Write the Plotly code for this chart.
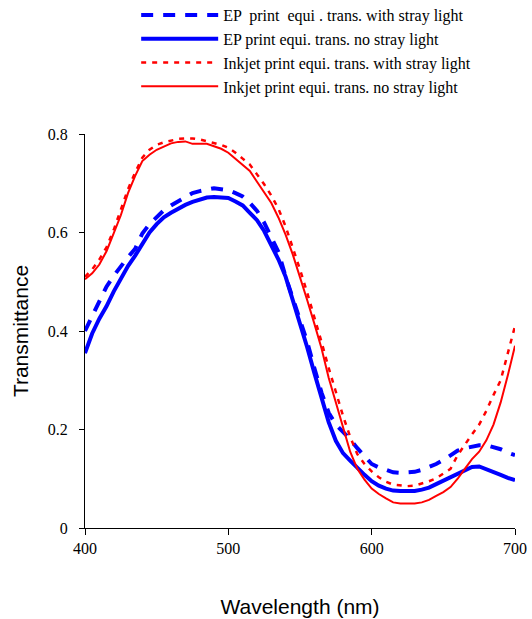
import plotly.graph_objects as go

wavelength = list(range(400, 701, 5))

ep_with_stray = [0.400, 0.430, 0.460, 0.490, 0.512, 0.532, 0.550, 0.567, 0.598, 0.617,
                 0.632, 0.645, 0.655, 0.663, 0.672, 0.680, 0.684, 0.688, 0.690, 0.688,
                 0.686, 0.680, 0.673, 0.660, 0.644, 0.620, 0.588, 0.560, 0.510, 0.468,
                 0.424, 0.378, 0.325, 0.275, 0.234, 0.210, 0.195, 0.180, 0.162, 0.145,
                 0.130, 0.123, 0.118, 0.113, 0.112, 0.112, 0.114, 0.118, 0.123, 0.130,
                 0.138, 0.148, 0.157, 0.162, 0.165, 0.168, 0.168, 0.165, 0.160, 0.153,
                 0.148]

ep_no_stray = [0.355, 0.395, 0.425, 0.450, 0.480, 0.507, 0.532, 0.553, 0.578, 0.600,
               0.617, 0.631, 0.640, 0.649, 0.656, 0.662, 0.667, 0.671, 0.672, 0.672,
               0.670, 0.663, 0.655, 0.640, 0.625, 0.603, 0.575, 0.545, 0.510, 0.463,
               0.420, 0.367, 0.315, 0.265, 0.215, 0.177, 0.152, 0.137, 0.122, 0.108,
               0.095, 0.086, 0.080, 0.076, 0.075, 0.075, 0.075, 0.078, 0.082, 0.089,
               0.096, 0.104, 0.112, 0.119, 0.124, 0.125, 0.120, 0.114, 0.108, 0.102,
               0.097]

inkjet_with_stray = [0.510, 0.525, 0.545, 0.570, 0.605, 0.645, 0.688, 0.722, 0.752, 0.768,
                     0.778, 0.783, 0.787, 0.790, 0.791, 0.791, 0.789, 0.785, 0.782, 0.778,
                     0.772, 0.762, 0.750, 0.738, 0.718, 0.698, 0.675, 0.648, 0.612, 0.570,
                     0.525, 0.478, 0.430, 0.378, 0.325, 0.275, 0.228, 0.185, 0.150, 0.130,
                     0.115, 0.103, 0.094, 0.088, 0.087, 0.085, 0.086, 0.090, 0.095, 0.101,
                     0.110, 0.120, 0.148, 0.170, 0.190, 0.210, 0.238, 0.270, 0.300, 0.355,
                     0.410]

inkjet_no_stray = [0.505, 0.517, 0.535, 0.562, 0.598, 0.635, 0.680, 0.715, 0.745, 0.758,
                   0.768, 0.775, 0.781, 0.784, 0.785, 0.780, 0.780, 0.780, 0.775, 0.770,
                   0.762, 0.750, 0.737, 0.725, 0.703, 0.682, 0.660, 0.630, 0.595, 0.555,
                   0.510, 0.463, 0.415, 0.365, 0.305, 0.255, 0.205, 0.155, 0.120, 0.098,
                   0.080, 0.069, 0.060, 0.052, 0.050, 0.050, 0.050, 0.052, 0.057, 0.065,
                   0.073, 0.083, 0.100, 0.120, 0.140, 0.155, 0.178, 0.210, 0.255, 0.310,
                   0.370]

series_names = ["EP  print  equi . trans. with stray light",
                "EP print equi. trans. no stray light",
                "Inkjet print equi. trans. with stray light",
                "Inkjet print equi. trans. no stray light"]

x_ticks = [400, 500, 600, 700]
y_ticks = [0, 0.2, 0.4, 0.6, 0.8]

fig = go.Figure()
fig.add_trace(go.Scatter(x=wavelength, y=ep_with_stray, mode="lines", name=series_names[0],
                         line=dict(color="#0000FF", width=4, dash="12px,10px")))
fig.add_trace(go.Scatter(x=wavelength, y=ep_no_stray, mode="lines", name=series_names[1],
                         line=dict(color="#0000FF", width=4)))
fig.add_trace(go.Scatter(x=wavelength, y=inkjet_with_stray, mode="lines", name=series_names[2],
                         line=dict(color="#FF0000", width=2.5, dash="5px,6px")))
fig.add_trace(go.Scatter(x=wavelength, y=inkjet_no_stray, mode="lines", name=series_names[3],
                         line=dict(color="#FF0000", width=2)))

fig.update_layout(
    width=532, height=619,
    margin=dict(l=85, r=17, t=134, b=91, autoexpand=False),
    paper_bgcolor="white", plot_bgcolor="white",
    font=dict(family="Liberation Serif", size=16, color="black"),
    showlegend=True,
    legend=dict(x=0.119, y=1.345, xanchor="left", yanchor="top",
                bgcolor="rgba(0,0,0,0)", itemwidth=77, tracegroupgap=0,
                font=dict(family="Liberation Serif", size=16, color="black")),
    xaxis=dict(range=[400, 700], tickvals=x_ticks, ticks="outside", ticklen=6,
               tickcolor="black", showline=True, linecolor="black", linewidth=1,
               showgrid=False, zeroline=False, mirror=False, ticklabelstandoff=0,
               tickfont=dict(family="Liberation Serif", size=16),
               title=dict(text="Wavelength (nm)", standoff=43,
                          font=dict(family="Liberation Sans", size=21))),
    yaxis=dict(range=[0, 0.8], tickvals=y_ticks, ticktext=["0", "0.2", "0.4", "0.6", "0.8"],
               ticks="outside", ticklen=5, tickcolor="black", showline=True,
               linecolor="black", linewidth=1, showgrid=False, zeroline=False,
               ticklabelstandoff=8,
               tickfont=dict(family="Liberation Serif", size=16),
               title=dict(text="Transmittance", standoff=13,
                          font=dict(family="Liberation Sans", size=21))),
)

# remove the default 8px body margin so the figure fills the window exactly
fig.write_html("out.html", config={"displayModeBar": False},
               post_script="document.body.style.margin='0';")
